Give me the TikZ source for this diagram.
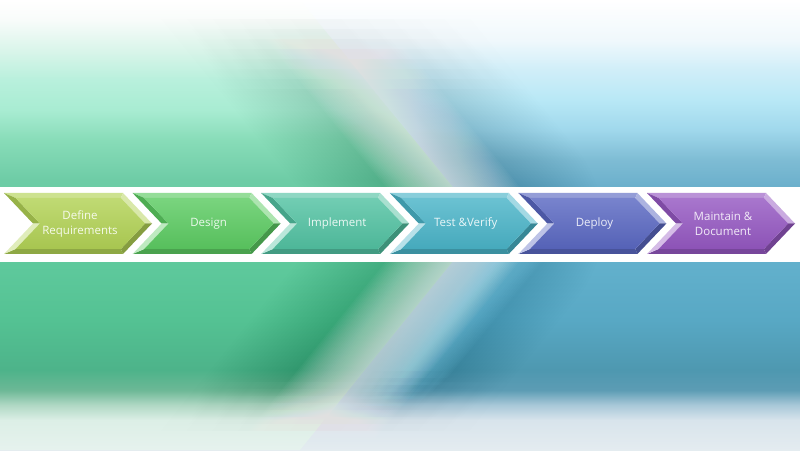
\documentclass[tikz,border=0pt]{standalone}
\usepackage{fontspec}
\setmainfont{Open Sans}
\pgfdeclareverticalshading{bgleft}{100bp}{%
rgb(0bp)=(.902,.949,.933); rgb(25bp)=(.902,.949,.933); rgb(28.33bp)=(.863,.937,.902);
rgb(30bp)=(.690,.847,.769); rgb(31.67bp)=(.424,.722,.588); rgb(33.89bp)=(.302,.702,.541);
rgb(39.44bp)=(.329,.761,.576); rgb(45.56bp)=(.369,.788,.612); rgb(55bp)=(.431,.800,.651);
rgb(59.44bp)=(.533,.863,.722); rgb(62.78bp)=(.659,.925,.824); rgb(66.11bp)=(.722,.941,.863);
rgb(69.44bp)=(.855,.961,.918); rgb(72.78bp)=(.973,.988,.980); rgb(75bp)=(1,1,1); rgb(100bp)=(1,1,1)}
\pgfdeclareverticalshading{bgright}{100bp}{%
rgb(0bp)=(.894,.925,.941); rgb(25bp)=(.894,.925,.941); rgb(28.33bp)=(.847,.894,.925);
rgb(30bp)=(.659,.784,.847); rgb(31.67bp)=(.361,.612,.706); rgb(33.89bp)=(.306,.596,.690);
rgb(39.44bp)=(.345,.659,.769); rgb(45.56bp)=(.384,.690,.800); rgb(54.44bp)=(.424,.690,.800);
rgb(57.22bp)=(.494,.737,.831); rgb(60.56bp)=(.627,.847,.925); rgb(63.89bp)=(.722,.910,.965);
rgb(67.22bp)=(.816,.933,.973); rgb(70.56bp)=(.941,.973,.988); rgb(75bp)=(1,1,1); rgb(100bp)=(1,1,1)}
\definecolor{cA}{HTML}{B2D255}
\definecolor{cB}{HTML}{5CCB62}
\definecolor{cC}{HTML}{52C2A2}
\definecolor{cD}{HTML}{4AB4C8}
\definecolor{cE}{HTML}{5A68C2}
\definecolor{cF}{HTML}{9558C2}
\definecolor{cyanglow}{HTML}{8AD8F2}
\definecolor{shadowc}{HTML}{1E4A50}
\tikzset{
  chevtext/.style={align=center, inner sep=0pt, font=\fontsize{11.5}{15}\selectfont},
  facet/.style={fill=#1},
  softline/.style={line join=round, line cap=butt}
}
\newcommand\mychev[4]{%
\begin{scope}[shift={(#1,196)}]
\fill[facet=#2!65!white] (0,61) -- (119,61) -- (116.85,56) -- (11.65,56) -- cycle;
\fill[facet=#2!50!white] (119,61) -- (148,30.5) -- (141.1,30.5) -- (116.85,56) -- cycle;
\fill[facet=#2!75!black] (148,30.5) -- (119,0) -- (116.85,5) -- (141.1,30.5) -- cycle;
\fill[facet=#2!80!black] (119,0) -- (0,0) -- (11.65,5) -- (116.85,5) -- cycle;
\fill[facet=#2!40!white] (0,0) -- (29,30.5) -- (35.9,30.5) -- (11.65,5) -- cycle;
\fill[facet=#2!85!black] (29,30.5) -- (0,61) -- (11.65,56) -- (35.9,30.5) -- cycle;
\shade[top color=#2!82!white, bottom color=#2!94!black] (11.65,5) -- (116.85,5) -- (141.1,30.5) -- (116.85,56) -- (11.65,56) -- (35.9,30.5) -- cycle;
\node[chevtext, text=#2!12!white] (#3) at (76,30.5) {#4};
\end{scope}}
\begin{document}
\begin{tikzpicture}[x=1pt,y=1pt]
\useasboundingbox (0,0) rectangle (800,450);
\clip (0,0) rectangle (800,450);
\coordinate (sTop) at (178,600);
\coordinate (sApex) at (483,226);
\coordinate (sBot) at (178,-150);
\coordinate (gApex) at (528,226);
\coordinate (gBot) at (221,-150);
% background
\shade[shading=bgright] (0,0) rectangle (800,450);
\shade[shading=bgleft] (0,0) -- (300,0) -- (sApex) -- (300,450) -- (0,450) -- cycle;
% soft shadow beside the light streak, faded out towards top and bottom
\foreach \k in {0,...,7}{
  \pgfmathsetmacro\ws{40+5*\k}
  \pgfmathsetmacro\wn{80+5*\k}
  \pgfmathsetmacro\yl{20+7*\k}
  \pgfmathsetmacro\yh{430-10*\k}
  \begin{scope}
    \clip (0,\yl) rectangle (800,\yh);
    \foreach \w in {\ws,\wn,...,240}
      \draw[softline, shadowc, opacity=0.004, line width=\w] (sTop) -- (sApex) -- (sBot);
  \end{scope}
}
% cyan glow below right
\foreach \k in {0,...,5}{
  \pgfmathsetmacro\ws{4+3*\k}
  \pgfmathsetmacro\wn{22+3*\k}
  \pgfmathsetmacro\yl{45+7*\k}
  \begin{scope}
    \clip (0,\yl) rectangle (800,190);
    \foreach \w in {\ws,\wn,...,70}
      \draw[softline, cyanglow, opacity=0.04, line width=\w] (gApex) -- (gBot);
  \end{scope}
}
% light streak
\foreach \w in {2,5,...,104}
  \draw[softline, white, opacity=0.033, line width=\w] (sTop) -- (sApex) -- (sBot);
% white band
\fill[white] (0,188) rectangle (800,263);
% chevrons
\mychev{4}{cA}{t1}{Define\\Requirements}
\mychev{132.6}{cB}{t2}{Design}
\mychev{261.2}{cC}{t3}{Implement}
\mychev{389.8}{cD}{t4}{Test \&Verify}
\mychev{518.4}{cE}{t5}{Deploy}
\mychev{647}{cF}{t6}{Maintain \&\\Document}
\end{tikzpicture}
\end{document}
